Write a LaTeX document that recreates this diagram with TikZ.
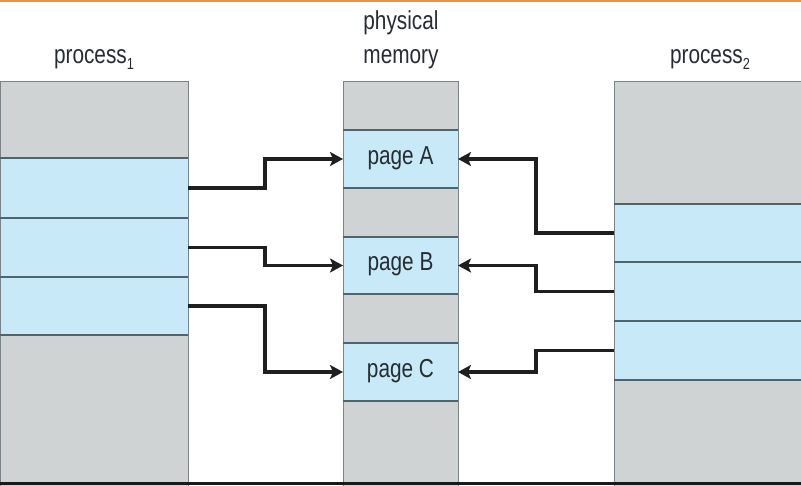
\documentclass[tikz,border=0pt]{standalone}
\usepackage{fontspec}
\newfontfamily\labfont[FakeStretch=0.8]{Liberation Sans}
\usetikzlibrary{arrows.meta}
\definecolor{cellgray}{RGB}{208,211,212}
\definecolor{cellblue}{RGB}{200,234,248}
\definecolor{rowline}{RGB}{80,100,110}
\definecolor{edgegray}{RGB}{122,132,136}
\definecolor{txt}{RGB}{38,44,50}
\definecolor{topline}{RGB}{232,149,74}
\tikzset{
  cell/.style={draw=edgegray, line width=1pt, inner sep=0pt, outer sep=0pt, anchor=north west},
  gcell/.style={cell, fill=cellgray},
  bcell/.style={cell, fill=cellblue},
  divider/.style={draw=rowline, line width=1.6pt},
  lab/.style={font=\labfont\fontsize{26}{31}\selectfont, text=txt, inner sep=0pt},
  conn/.style={draw=black!88, line width=3.2pt, -{Stealth[length=13pt,width=14pt,inset=3pt]}},
}
\newcommand{\cellbox}[6]{% style, name, x, y, w, h
  \node[#1, minimum width=#5pt, minimum height=#6pt] (#2) at (#3,#4) {};}
\begin{document}
\begin{tikzpicture}[x=1pt,y=-1pt]
\useasboundingbox (0,0) rectangle (801,485);
\fill[white] (0,0) rectangle (801,485);
% process 1
\cellbox{gcell}{p1a}{0}{81}{188}{77}
\cellbox{bcell}{p1b}{0}{158}{188}{60}
\cellbox{bcell}{p1c}{0}{218}{188}{59}
\cellbox{bcell}{p1d}{0}{277}{188}{58}
\cellbox{gcell}{p1e}{0}{335}{188}{152}
% physical memory
\cellbox{gcell}{m1}{343}{81}{115}{49}
\cellbox{bcell}{pA}{343}{130}{115}{58}
\cellbox{gcell}{m2}{343}{188}{115}{49}
\cellbox{bcell}{pB}{343}{237}{115}{57}
\cellbox{gcell}{m3}{343}{294}{115}{49}
\cellbox{bcell}{pC}{343}{343}{115}{58}
\cellbox{gcell}{m4}{343}{401}{115}{86}
% process 2
\cellbox{gcell}{p2a}{614}{81}{189}{123}
\cellbox{bcell}{p2b}{614}{204}{189}{58}
\cellbox{bcell}{p2c}{614}{262}{189}{59}
\cellbox{bcell}{p2d}{614}{321}{189}{59}
\cellbox{gcell}{p2e}{614}{380}{189}{107}
% row dividers
\foreach \c in {p1a,p1b,p1c,p1d,m1,pA,m2,pB,m3,pC,p2a,p2b,p2c,p2d}
  \draw[divider] (\c.south west) -- (\c.south east);
% page labels
\node[lab] (tA) at ([yshift=1pt]pA.center) {page A};
\node[lab] (tB) at ([yshift=1pt]pB.center) {page B};
\node[lab] (tC) at ([yshift=1pt]pC.center) {page C};
% titles
\node[lab, anchor=base] (t1) at (401,29) {physical};
\node[lab, anchor=base] (t2) at (401,63) {memory};
\node[lab, anchor=base] (t3) at (94,63) {process\raisebox{-6pt}{\fontsize{16}{16}\selectfont 1}};
\node[lab, anchor=base] (t4) at (710,63) {process\raisebox{-6pt}{\fontsize{16}{16}\selectfont 2}};
% connectors
\draw[conn] (p1b.east) -- ++(77,0) |- (pA.west);
\draw[conn] (p1c.east) -- ++(77,0) |- (pB.west);
\draw[conn] (p1d.east) -- ++(77,0) |- (pC.west);
\draw[conn] (p2b.west) -- ++(-78,0) |- (pA.east);
\draw[conn] (p2c.west) -- ++(-78,0) |- (pB.east);
\draw[conn] (p2d.west) -- ++(-78,0) |- (pC.east);
% frame lines
\fill[topline] (0,0) rectangle (801,1.8);
\fill[black!90] (0,482) rectangle (801,485);
\end{tikzpicture}
\end{document}
